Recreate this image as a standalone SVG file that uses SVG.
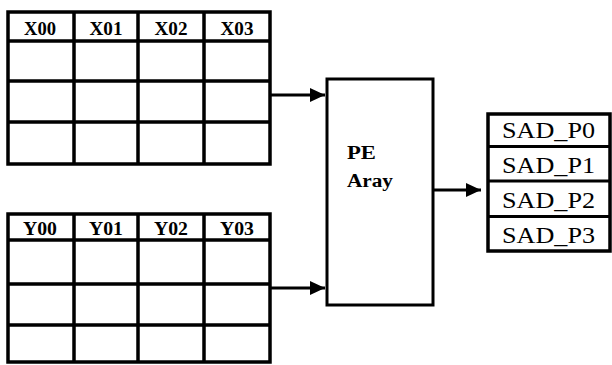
<svg xmlns="http://www.w3.org/2000/svg" width="612" height="365" viewBox="0 0 612 365">
<style>
.grid{fill:#fff;stroke:#000;stroke-width:3.5}
.ln{stroke:#000;stroke-width:3.5;fill:none}
.box{fill:#fff;stroke:#000;stroke-width:3}
.hdr{font-family:"Liberation Serif",Tinos,"Times New Roman",Times,serif;font-weight:bold;font-size:19px;fill:#000;text-anchor:middle}
.pe{font-family:"Liberation Serif",Tinos,"Times New Roman",Times,serif;font-weight:bold;font-size:18px;fill:#000}
.sad{font-family:"Liberation Serif",Tinos,"Times New Roman",Times,serif;font-size:23px;fill:#000}
.conn{stroke:#000;stroke-width:3;fill:none}
</style>
<defs>
<marker id="ah" markerUnits="userSpaceOnUse" markerWidth="16" markerHeight="14" refX="15" refY="7" orient="auto">
<path d="M0,0 L15,7 L0,14 Z" fill="#000"/>
</marker>
</defs>
<g id="x-grid">
<rect class="grid" x="8" y="12" width="262" height="152"/>
<path class="ln" d="M74,12V164M138,12V164M204,12V164M8,41H270M8,81H270M8,122H270"/>
<text class="hdr" x="40" y="35" textLength="32" lengthAdjust="spacingAndGlyphs">X00</text>
<text class="hdr" x="106" y="35" textLength="33" lengthAdjust="spacingAndGlyphs">X01</text>
<text class="hdr" x="171" y="35" textLength="33" lengthAdjust="spacingAndGlyphs">X02</text>
<text class="hdr" x="237" y="35" textLength="33" lengthAdjust="spacingAndGlyphs">X03</text>
</g>
<g id="y-grid">
<rect class="grid" x="8" y="214" width="262" height="148"/>
<path class="ln" d="M74,214V362M138,214V362M204,214V362M8,240H270M8,284H270M8,325H270"/>
<text class="hdr" x="40" y="235" textLength="34" lengthAdjust="spacingAndGlyphs">Y00</text>
<text class="hdr" x="106" y="235" textLength="34" lengthAdjust="spacingAndGlyphs">Y01</text>
<text class="hdr" x="171" y="235" textLength="34" lengthAdjust="spacingAndGlyphs">Y02</text>
<text class="hdr" x="237" y="235" textLength="34" lengthAdjust="spacingAndGlyphs">Y03</text>
</g>
<g id="pe-array">
<rect class="box" x="327" y="79" width="106" height="226"/>
<text class="pe" x="347" y="159" textLength="29" lengthAdjust="spacingAndGlyphs">PE</text>
<text class="pe" x="347" y="187" textLength="46" lengthAdjust="spacingAndGlyphs">Aray</text>
</g>
<g id="sad">
<rect class="grid" x="488" y="114" width="122" height="137"/>
<path class="ln" d="M488,146.5H610M488,181H610M488,216.5H610" style="stroke-width:3"/>
<text class="sad" x="502" y="138" textLength="93" lengthAdjust="spacingAndGlyphs">SAD_P0</text>
<text class="sad" x="502" y="173" textLength="93" lengthAdjust="spacingAndGlyphs">SAD_P1</text>
<text class="sad" x="502" y="208" textLength="93" lengthAdjust="spacingAndGlyphs">SAD_P2</text>
<text class="sad" x="502" y="243" textLength="93" lengthAdjust="spacingAndGlyphs">SAD_P3</text>
</g>
<g id="connectors">
<path class="conn" d="M270,95H325" marker-end="url(#ah)"/>
<path class="conn" d="M270,288H325" marker-end="url(#ah)"/>
<path class="conn" d="M433,190H481" marker-end="url(#ah)"/>
</g>
</svg>
